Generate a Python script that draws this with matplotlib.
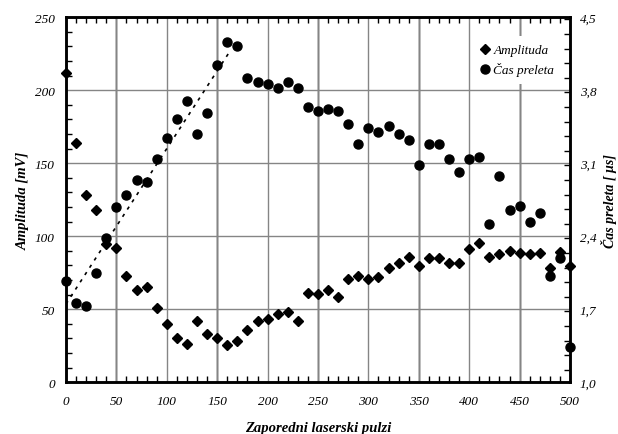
import numpy as np
import matplotlib
matplotlib.use('Agg')
import matplotlib.pyplot as plt
from matplotlib.ticker import MultipleLocator, FixedLocator

plt.rcParams['font.family'] = ['Liberation Serif', 'DejaVu Serif']
plt.rcParams['font.style'] = 'italic'

pulses = np.arange(0, 510, 10)

# Amplituda [mV]
amplitude = [212, 164, 128, 118, 95, 92, 73, 63, 65.5, 51,
             40, 30, 26, 42, 33, 30.5, 25.5, 28.5, 35.5, 42,
             43, 46.5, 48, 42, 61, 60.5, 63.5, 58.5, 70.5, 72.5,
             70.5, 72, 78.5, 81.5, 85.5, 79.5, 85, 85, 81.5, 81.5,
             91, 95.5, 86, 88, 90, 88.5, 87.5, 88.5, 78, 89.5, 79.5]

# Cas preleta [us]
flight_time = [1.97, 1.76, 1.73, 2.05, 2.38, 2.68, 2.80, 2.94, 2.92, 3.14,
               3.34, 3.52, 3.70, 3.38, 3.58, 4.04, 4.26, 4.22, 3.92, 3.88,
               3.86, 3.82, 3.88, 3.82, 3.64, 3.60, 3.62, 3.60, 3.48, 3.28,
               3.44, 3.40, 3.46, 3.38, 3.32, 3.08, 3.28, 3.28, 3.14, 3.02,
               3.14, 3.16, 2.52, 2.98, 2.65, 2.69, 2.54, 2.62, 2.02, 2.19, 1.34]

# dotted trend over rising part
trend_x = [0, 161]
trend_t = [1.75, 4.15]

time_ticks = [1.0, 1.7, 2.4, 3.1, 3.8, 4.5]

fig, ax = plt.subplots(figsize=(6.18, 4.35), dpi=100)
fig.subplots_adjust(left=0.1068, right=0.9223, bottom=0.119, top=0.958)
ax2 = ax.twinx()

ax.set_xlim(0, 500)
ax.set_ylim(0, 250)
ax2.set_ylim(1.0, 4.5)

# grid
ax.set_axisbelow(True)
ax.grid(True, which='major', color='#858585', lw=1.0)
for xv in [50, 150, 250, 350, 450]:
    ax.axvline(xv, color='black', lw=1.0, zorder=0.5)

ax.plot(pulses, amplitude, 'D', color='black', ms=5, clip_on=False,
        label='Amplituda', zorder=3)
ax2.plot(pulses, flight_time, 'o', color='black', ms=6.5, clip_on=False,
         label='Čas preleta', zorder=3)
ax2.plot(trend_x, trend_t, color='black', lw=1.2, ls=(0, (2, 3.2)), zorder=2)

ax.xaxis.set_major_locator(MultipleLocator(50))
ax.xaxis.set_minor_locator(MultipleLocator(10))
ax.yaxis.set_major_locator(MultipleLocator(50))
ax.yaxis.set_minor_locator(MultipleLocator(10))
ax2.yaxis.set_major_locator(FixedLocator(time_ticks))
ax2.yaxis.set_minor_locator(MultipleLocator(0.14))
ax2.set_yticklabels([f'{v:.1f}'.replace('.', ',') for v in time_ticks])

ax.tick_params(which='both', direction='in', top=True, labelsize=9.5)
ax.tick_params(which='major', length=0)
ax.tick_params(which='minor', length=4, width=1)
ax.tick_params(axis='y', pad=8)
ax.tick_params(axis='x', pad=9)
ax2.tick_params(which='both', direction='in', labelsize=9.5, pad=7)
ax2.tick_params(which='major', length=0)
ax2.tick_params(which='minor', length=4, width=1)

for a in (ax, ax2):
    for sp in a.spines.values():
        sp.set_linewidth(1.8)

ax.set_xlabel('Zaporedni laserski pulzi', fontsize=10.5, fontweight='bold',
              labelpad=10)
ax.set_ylabel('Amplituda [mV]', fontsize=10.5, fontweight='bold')
ax.yaxis.set_label_coords(-0.072, 0.5)
ax2.set_ylabel('Čas preleta [ μs]', fontsize=10, fontweight='bold',
               rotation=90, va='center')
ax2.yaxis.set_label_coords(1.077, 0.5)

h1, l1 = ax.get_legend_handles_labels()
h2, l2 = ax2.get_legend_handles_labels()
leg = ax2.legend(h1 + h2, l1 + l2, loc='upper right', fontsize=9.5,
                 bbox_to_anchor=(1.0, 0.97),
                 frameon=True, fancybox=False, edgecolor='none',
                 facecolor='white', framealpha=1, handletextpad=0.1,
                 handlelength=1.0, borderaxespad=0.6, labelspacing=0.45,
                 borderpad=0.6)

fig.savefig('out.png', dpi=100)
